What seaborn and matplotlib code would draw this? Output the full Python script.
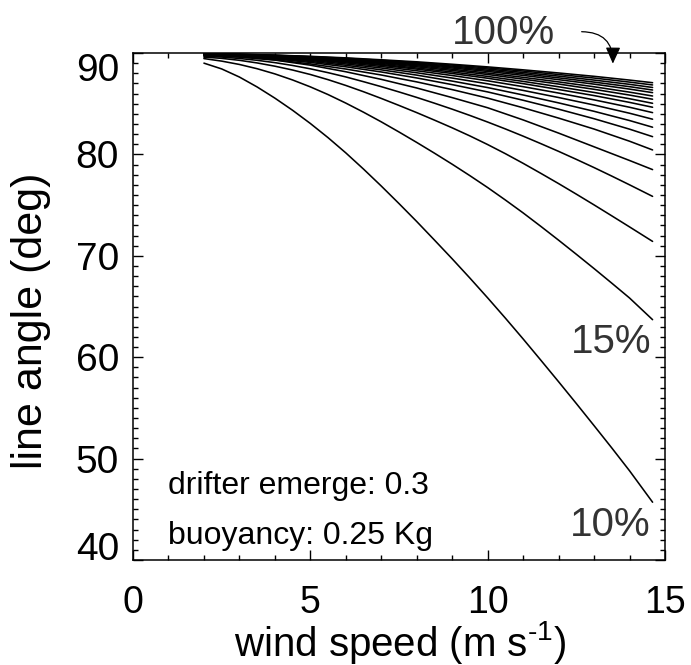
import numpy as np
import pandas as pd
import matplotlib
matplotlib.use("Agg")
import matplotlib.pyplot as plt
import seaborn as sns
from matplotlib.ticker import MultipleLocator

# ---------------- data ----------------
wind_speed = [2, 3, 4, 5, 6, 7, 8, 9, 10, 11, 12, 13, 14, 14.65]
wind_speed_fine = [2, 2.5, 3, 3.5, 4, 4.5, 5, 5.5, 6, 6.5, 7, 7.5, 8, 8.5, 9, 9.5,
                   10, 10.5, 11, 11.5, 12, 12.5, 13, 13.5, 14, 14.65]
pct_levels = [10, 15, 20, 25, 30, 35, 40, 45, 50, 55, 60, 65, 70, 75, 80, 85, 90, 95, 100]

# strongly curved lines, read every 0.5 m/s
angle_10 = [89.0, 88.43, 87.63, 86.65, 85.55, 84.35, 83.05, 81.65, 80.15, 78.55, 76.88, 75.15,
            73.38, 71.55, 69.7, 67.8, 65.85, 63.85, 61.8, 59.7, 57.58, 55.43, 53.25, 51.05,
            48.8, 45.7]
angle_15 = [89.45, 89.2, 88.87, 88.45, 87.94, 87.34, 86.66, 85.9, 85.06, 84.16, 83.21, 82.21,
            81.18, 80.12, 79.03, 77.9, 76.73, 75.5, 74.23, 72.9, 71.54, 70.15, 68.74, 67.3,
            65.84, 63.7]
angle_20 = [89.6, 89.47, 89.28, 89.02, 88.7, 88.32, 87.88, 87.37, 86.8, 86.18, 85.52, 84.83,
            84.12, 83.38, 82.62, 81.82, 80.97, 80.07, 79.12, 78.13, 77.12, 76.08, 75.02, 73.94,
            72.85, 71.42]
angle_25 = [89.7, 89.6, 89.46, 89.28, 89.05, 88.77, 88.44, 88.06, 87.64, 87.17, 86.68, 86.16,
            85.62, 85.05, 84.46, 83.84, 83.19, 82.51, 81.8, 81.06, 80.3, 79.51, 78.7, 77.86,
            77.0, 75.86]
# flatter lines, read every 1 m/s
angle_30 = [89.75, 89.6, 89.3, 88.8, 88.15, 87.4, 86.55, 85.6, 84.6, 83.4, 82.1, 80.75, 79.4, 78.5]
angle_35 = [89.81, 89.62, 89.33, 88.92, 88.42, 87.83, 87.15, 86.39, 85.55, 84.60, 83.58, 82.50, 81.30, 80.44]
angle_40 = [89.84, 89.67, 89.42, 89.07, 88.64, 88.13, 87.54, 86.88, 86.16, 85.34, 84.46, 83.52, 82.49, 81.75]
angle_45 = [89.85, 89.71, 89.49, 89.17, 88.79, 88.34, 87.82, 87.23, 86.59, 85.86, 85.08, 84.25, 83.34, 82.68]
angle_50 = [89.87, 89.74, 89.54, 89.26, 88.92, 88.52, 88.05, 87.53, 86.96, 86.31, 85.61, 84.87, 84.06, 83.47]
angle_55 = [89.88, 89.76, 89.59, 89.34, 89.03, 88.67, 88.25, 87.78, 87.26, 86.68, 86.05, 85.38, 84.65, 84.12]
angle_60 = [89.89, 89.79, 89.63, 89.40, 89.12, 88.79, 88.41, 87.98, 87.51, 86.98, 86.40, 85.80, 85.13, 84.65]
angle_65 = [89.90, 89.80, 89.65, 89.44, 89.18, 88.87, 88.52, 88.13, 87.69, 87.20, 86.67, 86.11, 85.49, 85.04]
angle_70 = [89.91, 89.82, 89.68, 89.48, 89.25, 88.96, 88.64, 88.28, 87.88, 87.42, 86.94, 86.42, 85.85, 85.44]
angle_75 = [89.92, 89.83, 89.70, 89.52, 89.30, 89.04, 88.74, 88.40, 88.02, 87.60, 87.15, 86.67, 86.14, 85.76]
angle_80 = [89.92, 89.84, 89.73, 89.56, 89.35, 89.11, 88.83, 88.52, 88.18, 87.79, 87.37, 86.93, 86.44, 86.09]
angle_85 = [89.93, 89.85, 89.74, 89.59, 89.40, 89.17, 88.91, 88.62, 88.30, 87.94, 87.55, 87.13, 86.68, 86.35]
angle_90 = [89.93, 89.86, 89.76, 89.62, 89.44, 89.23, 88.99, 88.71, 88.42, 88.08, 87.72, 87.33, 86.91, 86.60]
angle_95 = [89.94, 89.87, 89.78, 89.64, 89.48, 89.28, 89.06, 88.81, 88.53, 88.22, 87.88, 87.53, 87.13, 86.85]
angle_100 = [89.94, 89.88, 89.79, 89.67, 89.52, 89.33, 89.13, 88.89, 88.63, 88.34, 88.03, 87.70, 87.33, 87.07]

x_ticks = [0, 5, 10, 15]
y_ticks = [40, 50, 60, 70, 80, 90]
x_label = r"wind speed (m s$^{\text{-1}}$)"
y_label = "line angle (deg)"
note_lines = ["drifter emerge: 0.3", "buoyancy: 0.25 Kg"]
curve_labels = ["10%", "15%", "100%"]

# ---------------- build table ----------------
all_angles = [angle_10, angle_15, angle_20, angle_25, angle_30, angle_35, angle_40,
              angle_45, angle_50, angle_55, angle_60, angle_65, angle_70, angle_75,
              angle_80, angle_85, angle_90, angle_95, angle_100]
rows = []
for p, arr in zip(pct_levels, all_angles):
    xs = wind_speed_fine if len(arr) == len(wind_speed_fine) else wind_speed
    for w, a in zip(xs, arr):
        rows.append({"wind": w, "angle": a, "pct": p})
df = pd.DataFrame(rows)

# ---------------- style ----------------
sns.set_style("ticks")
plt.rcParams["font.family"] = ["Liberation Sans", "DejaVu Sans"]
plt.rcParams["mathtext.fontset"] = "custom"
plt.rcParams["mathtext.rm"] = "Liberation Sans"
plt.rcParams["mathtext.it"] = "Liberation Sans:italic"
plt.rcParams["text.color"] = "black"
plt.rcParams["axes.labelcolor"] = "black"
plt.rcParams["xtick.color"] = "black"
plt.rcParams["ytick.color"] = "black"

fig = plt.figure(figsize=(6.91, 6.65), dpi=100)
ax = fig.add_axes([0.19248, 0.15789, 0.76989, 0.76241])

sns.lineplot(data=df, x="wind", y="angle", hue="pct", units="pct", estimator=None,
             palette=["black"] * len(pct_levels), legend=False, linewidth=1.15,
             sort=True, ax=ax)

ax.set_xlim(0, 15)
ax.set_ylim(40, 90)
ax.set_xticks(x_ticks)
ax.set_yticks(y_ticks)
ax.xaxis.set_minor_locator(MultipleLocator(1))
ax.yaxis.set_minor_locator(MultipleLocator(1))

for s in ax.spines.values():
    s.set_visible(True)
    s.set_linewidth(1.1)
    s.set_color("black")

ax.tick_params(which="both", direction="in", top=True, right=True, color="black",
               labelcolor="black", width=1.0)
ax.tick_params(which="major", length=7.0)
ax.tick_params(which="minor", length=3.6)
ax.tick_params(axis="y", which="major", labelsize=28, pad=10)
ax.tick_params(axis="x", which="major", labelsize=27, pad=18)

ax.set_xticklabels([str(v) for v in x_ticks])
ylabels = ax.set_yticklabels([str(v) for v in y_ticks])
for lab, v in zip(ylabels, y_ticks):
    if v == 90:
        lab.set_va("top")
    elif v == 40:
        lab.set_va("baseline")

ax.set_xlabel(x_label, fontsize=29, color="black")
ax.xaxis.label.set_va("baseline")
ax.xaxis.set_label_coords(0.502, -0.19)
ax.set_ylabel(y_label, fontsize=31, color="black")
ax.yaxis.label.set_va("center")
ax.yaxis.label.set_ha("center")
ax.yaxis.set_label_coords(-0.192, 0.471)

# notes
ax.text(1.0, 46.55, note_lines[0], fontsize=23, color="black", ha="left", va="baseline")
ax.text(1.0, 41.6, note_lines[1], fontsize=23, color="black", ha="left", va="baseline")

# curve labels
ax.text(14.58, 42.35, curve_labels[0], fontsize=29, color="#333333", ha="right", va="baseline")
ax.text(14.62, 60.44, curve_labels[1], fontsize=29, color="#333333", ha="right", va="baseline")
ax.text(8.99, 90.85, curve_labels[2], fontsize=29, color="#333333", ha="left", va="baseline",
        clip_on=False)
ax.annotate("", xy=(13.53, 88.95), xytext=(12.65, 92.1), xycoords="data", textcoords="data",
            annotation_clip=False,
            arrowprops=dict(arrowstyle="-|>,head_length=1.0,head_width=0.45", color="black",
                            lw=0.9, connectionstyle="arc3,rad=-0.5", shrinkA=0, shrinkB=0))

fig.savefig("out.png", dpi=100)
